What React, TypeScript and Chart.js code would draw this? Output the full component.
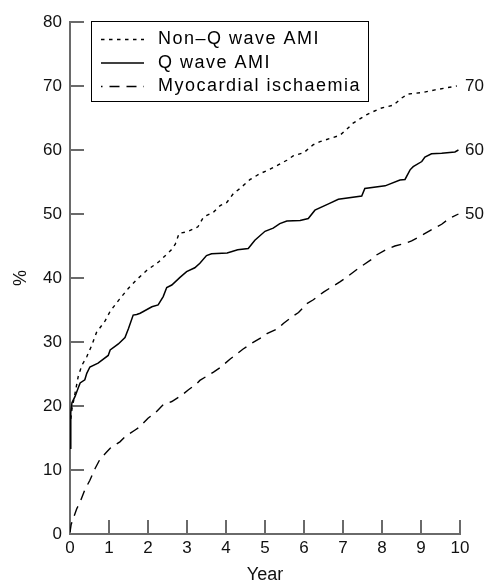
import { useEffect, useRef } from "react";
import { Chart, registerables } from "chart.js";

Chart.register(...registerables);

// ---------- data ----------
const seriesLabels = ["Non–Q wave AMI", "Q wave AMI", "Myocardial ischaemia"];

const nonQYears = [0.02, 0.05, 0.13, 0.21, 0.3, 0.43, 0.56, 0.68, 0.9, 1.03, 1.27, 1.5, 1.72, 1.97, 2.27, 2.6, 2.7, 2.8, 3.0, 3.28, 3.42, 3.68, 3.85, 4.02, 4.19, 4.36, 4.62, 4.87, 5.13, 5.35, 5.56, 5.73, 6.0, 6.23, 6.41, 6.92, 7.09, 7.26, 7.6, 7.95, 8.29, 8.5, 8.67, 9.06, 9.36, 9.92];
const nonQValues = [18, 19.5, 22, 24.6, 26.3, 27.7, 29.5, 31.5, 33.3, 34.8, 36.7, 38.4, 39.8, 41.2, 42.5, 44.4, 45.3, 47, 47.2, 48, 49.5, 50.3, 51.3, 51.8, 53.2, 54, 55.4, 56.3, 57, 57.7, 58.4, 59.1, 59.6, 60.8, 61.3, 62.3, 63.2, 64.2, 65.5, 66.5, 67, 68.1, 68.75, 69, 69.4, 70];

const qYears = [0, 0.02, 0.05, 0.13, 0.21, 0.26, 0.38, 0.43, 0.51, 0.72, 0.98, 1.03, 1.24, 1.41, 1.5, 1.62, 1.71, 1.8, 2.1, 2.26, 2.39, 2.48, 2.61, 2.82, 2.99, 3.2, 3.33, 3.5, 3.63, 4.03, 4.3, 4.57, 4.74, 5.0, 5.21, 5.38, 5.56, 5.9, 6.11, 6.28, 6.67, 6.88, 7.48, 7.56, 8.08, 8.46, 8.59, 8.72, 8.8, 9.02, 9.1, 9.27, 9.53, 9.87, 9.96];
const qValues = [13.4, 19, 20.5, 21.5, 22.8, 23.6, 24.1, 25.1, 26.1, 26.7, 27.9, 28.75, 29.7, 30.7, 32.1, 34.2, 34.3, 34.5, 35.5, 35.8, 37.1, 38.5, 38.9, 40.1, 41, 41.6, 42.3, 43.5, 43.8, 43.9, 44.4, 44.6, 45.9, 47.3, 47.8, 48.5, 48.9, 49, 49.3, 50.6, 51.7, 52.3, 52.8, 54, 54.4, 55.3, 55.4, 56.9, 57.4, 58.2, 58.9, 59.4, 59.5, 59.7, 60];

const miYears = [0, 0.03, 0.17, 0.26, 0.38, 0.51, 0.64, 0.77, 0.94, 1.03, 1.28, 1.41, 1.67, 1.8, 2.0, 2.18, 2.39, 2.61, 2.87, 3.03, 3.25, 3.33, 3.68, 3.85, 4.1, 4.44, 4.66, 4.91, 5.05, 5.34, 5.47, 5.73, 5.86, 6.07, 6.24, 6.5, 6.71, 6.92, 7.09, 7.39, 7.73, 7.86, 8.12, 8.33, 8.59, 8.76, 9.06, 9.23, 9.53, 9.7, 9.96];
const miValues = [0.3, 1.5, 3.9, 5, 6.9, 8.4, 10.2, 11.7, 12.8, 13.4, 14.4, 15.2, 16.25, 16.8, 18.1, 18.9, 20.2, 20.7, 21.7, 22.5, 23.5, 24, 25.3, 26, 27.3, 28.9, 29.8, 30.7, 31.3, 32.1, 32.9, 34.1, 34.6, 36, 36.6, 37.8, 38.6, 39.4, 40.1, 41.5, 42.9, 43.6, 44.5, 45, 45.4, 45.8, 46.8, 47.4, 48.4, 49.2, 50];

const endLabels = ["70", "60", "50"];
const endValues = [70, 60, 50];

const xTickValues = [0, 1, 2, 3, 4, 5, 6, 7, 8, 9, 10];
const yTickValues = [0, 10, 20, 30, 40, 50, 60, 70, 80];
const xTitle = "Year";
const yTitle = "%";

// ---------- styles ----------
const FONT = '"Liberation Sans", Arial, Helvetica, sans-serif';
const AXIS = "#6a6a6a";
const TICK_LEN = 13;
const TICK_W = 2;
const PLOT_H = 511; // grid line length inside the plot (top to axis)
const dashes = [[3.5, 4.5], [], [10, 7]];
const legendDashOffsets = [0, 0, 8.5];

const toPoints = (xs: number[], ys: number[]) => xs.map((x, i) => ({ x, y: ys[i] }));

const overlay = {
  id: "overlay",
  afterDraw(chart: any) {
    const ctx = chart.ctx as CanvasRenderingContext2D;
    const xs = chart.scales.x;
    const ys = chart.scales.y;
    ctx.save();
    // end labels
    ctx.font = `17px ${FONT}`;
    ctx.fillStyle = "#111";
    ctx.textAlign = "left";
    ctx.textBaseline = "middle";
    endLabels.forEach((t, i) => {
      ctx.fillText(t, xs.getPixelForValue(xTickValues[xTickValues.length - 1]) + 5, ys.getPixelForValue(endValues[i]));
    });
    // legend
    const bx = 91.5, by = 21.5, bw = 277, bh = 80;
    ctx.fillStyle = "#fff";
    ctx.fillRect(bx, by, bw, bh);
    ctx.strokeStyle = "#000";
    ctx.lineWidth = 1;
    ctx.setLineDash([]);
    ctx.strokeRect(bx, by, bw, bh);
    chart.data.datasets.forEach((ds: any, i: number) => {
      const y = 39.5 + i * 23.5;
      ctx.save();
      ctx.setLineDash(ds.borderDash || []);
      ctx.lineDashOffset = legendDashOffsets[i];
      ctx.lineWidth = ds.borderWidth;
      ctx.strokeStyle = "#000";
      ctx.beginPath();
      ctx.moveTo(101, y);
      ctx.lineTo(144, y);
      ctx.stroke();
      ctx.restore();
      ctx.font = `18px ${FONT}`;
      (ctx as any).letterSpacing = "1.5px";
      ctx.fillStyle = "#000";
      ctx.textAlign = "left";
      ctx.textBaseline = "middle";
      ctx.fillText(ds.label, 158, y);
    });
    ctx.restore();
  },
};

export default function App() {
  const ref = useRef<HTMLCanvasElement | null>(null);

  useEffect(() => {
    if (!ref.current) return;
    const series = [
      toPoints(nonQYears, nonQValues),
      toPoints(qYears, qValues),
      toPoints(miYears, miValues),
    ];
    const chart = new Chart(ref.current, {
      type: "line",
      data: {
        datasets: series.map((d, i) => ({
          label: seriesLabels[i],
          data: d,
          borderColor: "#000",
          borderWidth: i === 1 ? 1.5 : 1.4,
          borderDash: dashes[i],
          pointRadius: 0,
          tension: 0,
          fill: false,
        })),
      },
      options: {
        animation: false,
        responsive: false,
        devicePixelRatio: 1,
        layout: { padding: { left: 0, top: 22, right: 27, bottom: 0 } },
        plugins: { legend: { display: false }, tooltip: { enabled: false } },
        scales: {
          x: {
            type: "linear",
            min: xTickValues[0],
            max: xTickValues[xTickValues.length - 1],
            ticks: {
              stepSize: 1,
              color: "#111",
              font: { family: FONT, size: 17 },
              padding: 4,
              maxRotation: 0,
            },
            // grid lines dashed so only the bottom 13px (inward tick) shows
            grid: {
              display: true,
              drawOnChartArea: true,
              drawTicks: false,
              color: AXIS,
              lineWidth: TICK_W,
            },
            border: {
              display: true,
              color: AXIS,
              width: 2,
              dash: [0, PLOT_H - TICK_LEN, TICK_LEN, 4000],
            },
            title: {
              display: true,
              text: xTitle,
              color: "#111",
              font: { family: FONT, size: 18, lineHeight: 1 },
              padding: 0,
            },
            afterFit: (s: any) => {
              s.height = 50;
            },
          },
          y: {
            type: "linear",
            min: yTickValues[0],
            max: yTickValues[yTickValues.length - 1],
            ticks: {
              stepSize: 10,
              color: "#111",
              font: { family: FONT, size: 17 },
              padding: 8,
            },
            // grid lines dashed so only the first 13px (inward tick) shows
            grid: {
              display: true,
              drawOnChartArea: true,
              drawTicks: false,
              color: AXIS,
              lineWidth: TICK_W,
            },
            border: {
              display: true,
              color: AXIS,
              width: 2,
              dash: [TICK_LEN, 4000],
            },
            title: {
              display: true,
              text: yTitle,
              color: "#111",
              font: { family: FONT, size: 18 },
              padding: { top: 10, bottom: 0 },
            },
            afterFit: (s: any) => {
              s.width = 70;
            },
          },
        },
      },
      plugins: [overlay],
    } as any);
    return () => chart.destroy();
  }, []);

  return (
    <div style={{ position: "fixed", left: 0, top: 0, width: 487, height: 584, background: "#fff" }}>
      <canvas ref={ref} width={487} height={584} style={{ display: "block" }} />
    </div>
  );
}
